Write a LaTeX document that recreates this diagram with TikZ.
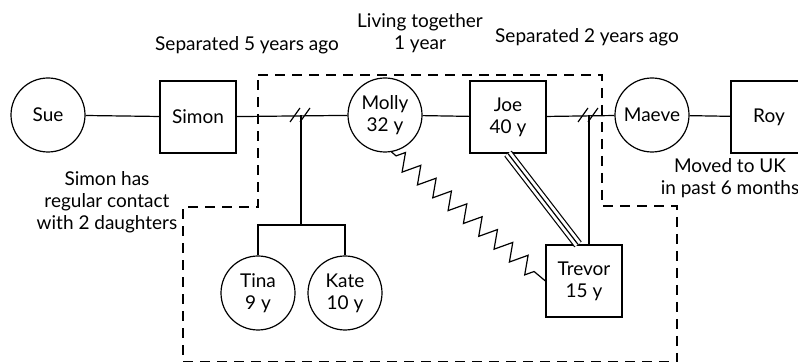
\documentclass[tikz,border=0pt]{standalone}
\usepackage{fontspec}
\setmainfont{Lato}
\usetikzlibrary{decorations.pathmorphing}
\tikzset{
  female/.style={draw,circle,minimum size=37pt,inner sep=0pt,align=center},
  male/.style={draw,rectangle,minimum width=38pt,minimum height=36pt,inner sep=0pt,align=center},
  note/.style={align=center},
  household/.style={dash pattern=on 5pt off 3.5pt},
  conflict/.style={decorate,decoration={zigzag,amplitude=4.3pt,segment length=10pt,pre length=3pt,post length=3pt}}
}
\begin{document}
\begin{tikzpicture}[x=0.5pt,y=-0.5pt,line width=0.6pt,font=\fontsize{9.5}{11}\selectfont]
\useasboundingbox (0,0) rectangle (798,362);
% household
\draw[household](258,75)--(602,75)--(602,206)--(677,206)--(677,362)--(183,362)--(183,207)--(258,207)--cycle;
% people
\node[female](sue) at (48,115){Sue};
\node[male](simon) at (198,117){Simon};
\node[female](molly) at (385,115){Molly\\32 y};
\node[male](joe) at (508,117){Joe\\40 y};
\node[female](maeve) at (652,115){Maeve};
\node[male](roy) at (769,117){Roy};
\node[female](tina) at (258,293){Tina\\9 y};
\node[female](kate) at (345,293){Kate\\10 y};
\node[male](trevor) at (584,281){Trevor\\15 y};
% notes
\node[note,anchor=base](sepfive) at (247,51){Separated 5 years ago};
\node[note](living) at (420,33){Living together\\1 year};
\node[note,anchor=base](septwo) at (587,43){Separated 2 years ago};
\node[note](contact) at (107,202){Simon has\\regular contact\\with 2 daughters};
\node[note](moved) at (730,178){Moved to UK\\in past 6 months};
% relationships
\coordinate(sepa) at (301,115);
\coordinate(sepb) at (589,115);
\coordinate(kids) at (301,225);
\draw(sue)--(simon);
\draw(simon)--(molly);
\draw(molly)--(joe);
\draw(joe)--(maeve);
\draw(maeve)--(roy);
\draw(sepa)++(-11,7)--++(10,-14) (sepa)++(-1,7)--++(10,-14);
\draw(sepb)++(-11,7)--++(10,-14) (sepb)++(-1,7)--++(10,-14);
\draw(sepa)--(kids);
\draw(tina.north)--(tina.north|-kids)--(kate.north|-kids)--(kate.north);
\draw(sepb)--(sepb|-trevor.north);
\coordinate(close) at ([xshift=-3pt]trevor.north);
\draw[double distance=3.5pt](joe.south)--(close);
\draw(joe.south)--(close);
\draw[conflict](molly.-80)--(trevor.west);
\end{tikzpicture}
\end{document}
